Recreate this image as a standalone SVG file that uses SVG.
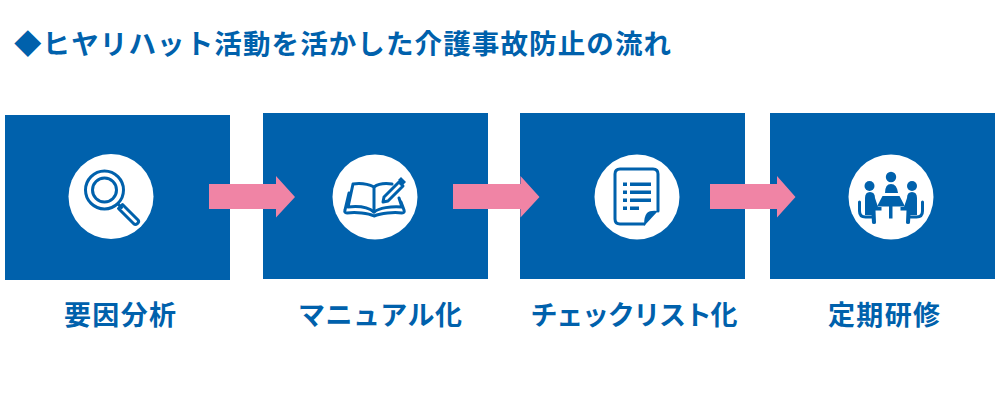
<svg xmlns="http://www.w3.org/2000/svg" width="1000" height="400" viewBox="0 0 1000 400">
<style>
.box{fill:#0061ac}
.disc{fill:#fff}
.arrow{fill:#f084a5}
.lbl{font-family:"Noto Sans CJK JP","Noto Sans",sans-serif;font-weight:700;fill:#0061ac;font-size:27px;text-anchor:middle}
.ttl{font-family:"Noto Sans CJK JP","Noto Sans",sans-serif;font-weight:700;fill:#0061ac;font-size:27.5px}
.ln{fill:none;stroke:#0061ac;stroke-width:3;stroke-linejoin:round;stroke-linecap:round}
.fl{fill:#0061ac}
</style>
<rect width="1000" height="400" fill="#fff"/>
<text id="title" class="ttl" x="14" y="54" textLength="657" lengthAdjust="spacing">◆ヒヤリハット活動を活かした介護事故防止の流れ</text>
<g id="node-1">
<rect class="box" x="5" y="115" width="225" height="165"/>
<circle class="disc" cx="111" cy="196.500" r="42.500"/>
<circle class="ln" cx="104.500" cy="190" r="19"/>
<circle class="ln" cx="104.500" cy="190" r="12"/>
<path class="ln" d="M118 204l3.500 3.500"/>
<path class="ln" d="M118.500 208.500l4-4 15.500 15.500q1.500 2-.5 3.500t-3.500.5z"/>
<text class="lbl" x="120" y="325" textLength="112" lengthAdjust="spacing">要因分析</text>
</g>
<g id="node-2">
<rect class="box" x="263" y="113" width="225" height="166"/>
<circle class="disc" cx="375" cy="197" r="42.500"/>
<path class="ln" d="M374 187c-6-3-14-4-21-3l-5 23c9-1 20 0 26 5 5-4 17-6 28-5l-3-9"/>
<path class="ln" d="M374 187c4-3 11-4 18-3M374 187v25"/>
<path class="ln" d="M349 193l-4 17q-1 3 2 3c9-1 21 0 27 3 7-3 20-4 28-3q3 0 2-3l-3-8"/>
<path class="ln" d="M384 197l15-15 4 4-15 15-5 1z" stroke-width="2.400"/>
<path class="fl" d="M398 180l3-3 5 5-3 3z"/>
<text class="lbl" x="380" y="325" textLength="164" lengthAdjust="spacing">マニュアル化</text>
</g>
<g id="node-3">
<rect class="box" x="520" y="113" width="225" height="166"/>
<circle class="disc" cx="637" cy="197" r="42.500"/>
<path class="ln" d="M644 224h-24q-5 0-5-5v-45q0-5 5-5h33q5 0 5 5v37" stroke-width="3.400"/>
<path class="fl" d="M644 226l14-15q-8-1-11 2t-3 13z"/>
<path class="fl" d="M623 182.500h4v3.500h-4zM630 182.500h21v3.500h-21zM623 190.500h4v3.500h-4zM630 190.500h21v3.500h-21zM623 198.500h4v3.500h-4zM630 198.500h21v3.500h-21zM623 206.500h4v3.500h-4zM630 206.500h9v3.500h-9z"/>
<text class="lbl" x="634" y="325" textLength="207" lengthAdjust="spacing">チェックリスト化</text>
</g>
<g id="node-4">
<rect class="box" x="770" y="113" width="225" height="166"/>
<circle class="disc" cx="891" cy="197" r="42.500"/>
<circle class="fl" cx="891" cy="177" r="5.200"/>
<circle class="fl" cx="869.500" cy="186" r="5"/>
<circle class="fl" cx="912" cy="186" r="5"/>
<path class="fl" d="M885 193q0-9 6-9t7 9z"/>
<path class="fl" d="M882.500 196h17l5.500 10.500h-28z"/>
<path class="fl" d="M889 206h3.500v12.500h-3.500z"/>
<path class="fl" d="M865 198q0-6 5-6t5 6l3 9h3.500v3.500h-6l.5 12q0 1.500-2 1.500t-2-1.500l-.5-7.500h-6.500z"/>
<path class="fl" d="M917 198q0-6-5-6t-5 6l-3 9h-3.500v3.500h6l-.5 12q0 1.500 2 1.500t2-1.500l.5-7.500h6.500z"/>
<path class="ln" d="M859.500 202v9q0 6 6 6h6M922.500 202v9q0 6-6 6h-6" stroke-width="2.400"/>
<text class="lbl" x="884" y="325" textLength="112" lengthAdjust="spacing">定期研修</text>
</g>
<g id="connectors">
<path class="arrow" d="M209 184h67v-8l19 21-19 20.500v-8.500h-67z"/>
<path class="arrow" d="M453 184h67.500v-8l19 21-19 20.500v-8.500h-67.500z"/>
<path class="arrow" d="M710 184h67v-8l18.500 21-18.500 20.500v-8.500h-67z"/>
</g>
</svg>
